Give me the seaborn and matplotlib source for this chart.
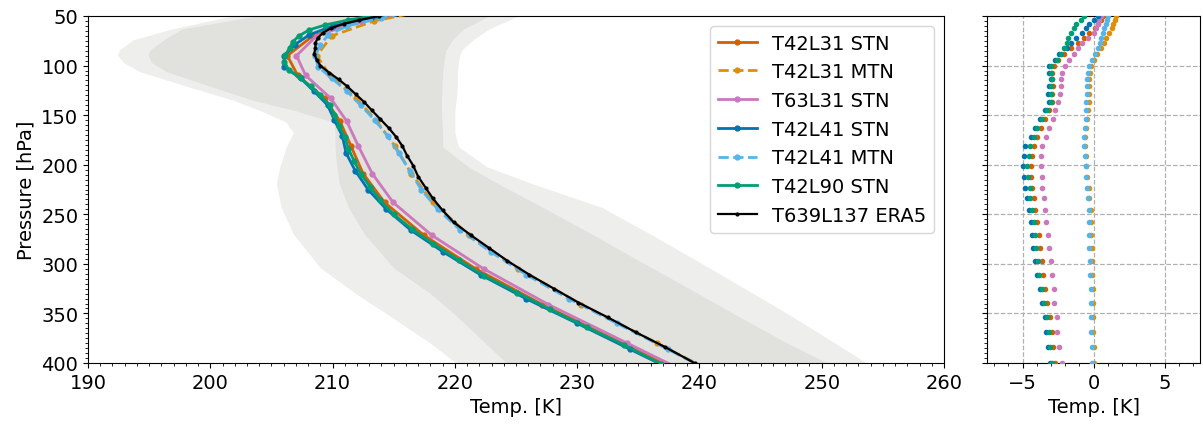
import numpy as np
import pandas as pd
import matplotlib
matplotlib.use("Agg")
import matplotlib.pyplot as plt
from matplotlib.ticker import MultipleLocator
import seaborn as sns

# ---------------- data ----------------
series_names = ["T42L31 STN", "T42L31 MTN", "T63L31 STN", "T42L41 STN",
                "T42L41 MTN", "T42L90 STN", "T639L137 ERA5"]

# ERA5 reference profile (pressure [hPa], temperature [K])
p_era5 = [45, 50, 54, 58, 62, 67, 72, 77, 82, 88, 94, 100, 107, 114, 121, 129, 137, 145,
          154, 163, 172, 181, 191, 201, 212, 223, 234, 246, 258, 271, 284, 297, 311,
          325, 339, 354, 369, 384, 400, 415]
t_era5 = [215.8, 213.8, 212.2, 210.9, 209.9, 209.2, 208.8, 208.6, 208.6, 208.5, 208.7,
          209.0, 209.7, 210.5, 211.2, 211.9, 212.6, 213.2, 213.9, 214.6, 215.2, 215.7,
          216.1, 216.6, 217.0, 217.6, 218.2, 219.0, 219.9, 221.3, 222.8, 224.3, 226.1,
          228.1, 230.1, 232.5, 234.8, 237.2, 239.6, 242.0]

# L31 models
p_l31 = [45, 55, 70, 90, 110, 133, 156, 181, 209, 238, 271, 305, 341, 380, 420]
t_t42l31_stn = [216.5, 212.35, 208.4, 206.3, 207.15, 209.35, 210.6, 211.5, 212.5, 214.25,
                217.45, 221.7, 227.15, 233.65, 240.2]
t_t42l31_mtn = [217.4, 213.4, 209.95, 208.7, 209.8, 211.95, 213.6, 215.1, 216.45, 218.2,
                221.15, 225.2, 230.35, 236.55, 242.8]
t_t63l31_stn = [216.35, 212.3, 208.7, 207.05, 207.8, 209.85, 211.15, 212.1, 213.25, 214.95,
                218.1, 222.35, 227.65, 234.1, 240.7]

# L41 models
p_l41 = [45, 52, 60, 69, 79, 90, 101, 113, 126, 140, 155, 171, 188, 206, 225, 245, 266,
         288, 311, 335, 360, 386, 413]
t_t42l41_stn = [216.3, 213.15, 210.0, 208.1, 206.9, 206.05, 206.0, 207.4, 208.5, 209.6,
                210.15, 210.8, 211.1, 211.85, 212.9, 214.4, 216.4, 219.05, 222.1, 225.8,
                230.0, 234.3, 238.8]
t_t42l41_mtn = [216.85, 214.0, 211.2, 209.65, 209.0, 208.6, 208.8, 209.95, 211.2, 212.3,
                213.45, 214.5, 215.4, 216.3, 217.25, 218.6, 220.45, 222.95, 225.85, 229.3,
                233.25, 237.4, 241.6]

# L90 model
p_l90 = [45, 49, 54, 59, 64, 70, 76, 82, 89, 96, 104, 112, 121, 130, 140, 150, 161, 172,
         184, 196, 209, 222, 236, 250, 265, 280, 296, 312, 329, 346, 364, 382, 401, 420]
t_t42l90_stn = [215.3, 213.65, 211.3, 209.4, 208.1, 207.25, 206.75, 206.5, 206.15, 206.05,
                206.4, 207.3, 208.2, 209.0, 209.75, 210.15, 210.55, 211.0, 211.3, 211.75,
                212.3, 213.05, 213.9, 215.0, 216.5, 218.25, 220.3, 222.4, 225.1, 227.8,
                230.8, 233.85, 236.85, 240.05]

# differences to ERA5 (right panel)
p_diff = [50, 54, 58, 62, 67, 72, 77, 82, 88, 94, 100, 107, 114, 121, 129, 137, 145, 154,
          163, 172, 181, 191, 201, 212, 223, 234, 246, 258, 271, 284, 297, 311, 325, 339,
          354, 369, 384, 400]
d_t42l31_stn = [0.7, 0.5, 0.3, 0.1, -0.3, -0.7, -1.1, -1.6, -2.1, -2.5, -2.8, -2.9, -2.9,
                -2.85, -2.9, -2.95, -3.1, -3.4, -3.7, -4.0, -4.2, -4.35, -4.4, -4.4, -4.3,
                -4.2, -4.1, -3.95, -3.85, -3.8, -3.65, -3.55, -3.4, -3.3, -3.05, -2.95,
                -2.85, -2.7]
d_t42l31_mtn = [1.55, 1.5, 1.4, 1.3, 1.1, 0.9, 0.75, 0.55, 0.25, 0.0, -0.2, -0.25, -0.3,
                -0.3, -0.3, -0.35, -0.4, -0.45, -0.55, -0.6, -0.6, -0.55, -0.5, -0.45,
                -0.35, -0.3, -0.2, -0.15, -0.15, -0.1, -0.1, -0.1, -0.05, -0.05, -0.05,
                -0.05, 0.0, 0.0]
d_t63l31_stn = [0.5, 0.4, 0.3, 0.2, 0.0, -0.4, -0.8, -1.1, -1.4, -1.7, -2.0, -2.2, -2.3,
                -2.3, -2.35, -2.5, -2.7, -2.85, -3.1, -3.35, -3.6, -3.7, -3.7, -3.65, -3.6,
                -3.5, -3.45, -3.35, -3.2, -3.15, -3.0, -2.95, -2.8, -2.75, -2.6, -2.55,
                -2.4, -2.25]
d_t42l41_stn = [0.3, 0.0, -0.3, -0.5, -0.8, -1.2, -1.6, -1.9, -2.4, -2.7, -3.1, -3.1, -3.0,
                -3.1, -3.2, -3.1, -3.4, -3.8, -4.1, -4.4, -4.8, -4.9, -5.0, -4.9, -4.85,
                -4.7, -4.55, -4.4, -4.3, -4.25, -4.1, -4.0, -3.75, -3.65, -3.45, -3.35,
                -3.2, -3.05]
d_t42l41_mtn = [1.0, 0.95, 0.85, 0.75, 0.65, 0.55, 0.45, 0.3, 0.1, -0.1, -0.3, -0.4, -0.45,
                -0.45, -0.45, -0.5, -0.5, -0.55, -0.6, -0.65, -0.65, -0.6, -0.55, -0.5,
                -0.45, -0.4, -0.35, -0.3, -0.3, -0.3, -0.25, -0.25, -0.2, -0.2, -0.15,
                -0.15, -0.1, -0.1]
d_t42l90_stn = [-0.7, -0.9, -1.2, -1.4, -1.6, -1.8, -1.9, -2.1, -2.3, -2.6, -3.0, -3.0,
                -2.9, -3.0, -3.0, -3.0, -3.3, -3.6, -4.0, -4.2, -4.45, -4.55, -4.65, -4.6,
                -4.5, -4.45, -4.35, -4.2, -4.1, -4.05, -3.9, -3.85, -3.6, -3.5, -3.25,
                -3.15, -3.05, -2.9]

# spread envelopes (grey shading)
p_env = [45, 50, 63, 74, 84, 89, 97, 106, 121, 135, 145, 157, 168, 182, 202, 219, 243,
         270, 304, 330, 351, 380, 401, 410]
outer_lo = [204.0, 201.8, 196.9, 193.7, 192.6, 192.4, 192.9, 194.2, 198.1, 201.9, 204.0,
            206.2, 206.8, 206.2, 205.7, 205.4, 205.8, 206.8, 209.0, 211.9, 214.5, 218.0,
            220.2, 221.2]
outer_hi = [226.0, 225.2, 222.8, 221.5, 220.6, 220.4, 220.3, 220.2, 220.2, 220.1, 220.0,
            220.0, 220.0, 220.3, 222.6, 226.3, 232.0, 236.0, 240.8, 244.4, 247.3, 251.1,
            253.8, 254.8]
inner_lo = [206.0, 203.8, 197.7, 196.2, 195.1, 194.9, 195.2, 196.4, 200.0, 203.5, 206.8,
            210.1, 210.2, 210.2, 210.35, 210.55, 211.3, 212.6, 215.0, 218.0, 220.0, 222.5,
            224.3, 225.2]
inner_hi = [224.0, 222.8, 220.7, 219.8, 219.3, 219.2, 219.1, 219.0, 218.95, 218.9, 218.9,
            218.95, 219.0, 219.0, 221.1, 223.5, 227.2, 231.2, 236.1, 239.9, 242.9, 247.2,
            250.6, 251.8]

# ---------------- styling ----------------
plt.rcParams.update({
    "font.family": ["DejaVu Sans"],
    "font.size": 14,
    "axes.linewidth": 0.8,
    "xtick.major.size": 3.5,
    "ytick.major.size": 3.5,
    "xtick.minor.size": 2,
    "ytick.minor.size": 2,
})

cb = sns.color_palette("colorblind")
colors = [cb[3], cb[1], cb[4], cb[0], cb[9], cb[2], "black"]
styles = ["-", "--", "-", "-", "--", "-", "-"]

profiles = [
    (p_l31, t_t42l31_stn), (p_l31, t_t42l31_mtn), (p_l31, t_t63l31_stn),
    (p_l41, t_t42l41_stn), (p_l41, t_t42l41_mtn), (p_l90, t_t42l90_stn),
    (p_era5, t_era5),
]
diffs = [d_t42l31_stn, d_t42l31_mtn, d_t63l31_stn, d_t42l41_stn, d_t42l41_mtn, d_t42l90_stn]

fig = plt.figure(figsize=(12.03, 4.27), dpi=100)
ax1 = fig.add_axes([88 / 1203, 63 / 427, 856 / 1203, 347 / 427])
ax2 = fig.add_axes([987 / 1203, 63 / 427, 213 / 1203, 347 / 427])

# shading
ax1.fill_betweenx(p_env, outer_lo, outer_hi, color="#eeeeed", lw=0, zorder=0)
ax1.fill_betweenx(p_env, inner_lo, inner_hi, color="#e1e1de", lw=0, zorder=0.5)

for name, (pp, tt), c, ls in zip(series_names, profiles, colors, styles):
    df = pd.DataFrame({"T": tt, "p": pp})
    is_era = name.endswith("ERA5")
    sns.lineplot(data=df, x="T", y="p", orient="y", sort=False, ax=ax1, color=c,
                 linestyle=ls, marker=".", markersize=4 if is_era else 7,
                 markeredgecolor=c, markerfacecolor=c, markeredgewidth=1.0,
                 lw=1.6 if is_era else 2.0, label=name, zorder=3)

ax1.set_xlim(190, 260)
ax1.set_ylim(400, 50)
ax1.xaxis.set_major_locator(MultipleLocator(10))
ax1.xaxis.set_minor_locator(MultipleLocator(1))
ax1.yaxis.set_major_locator(MultipleLocator(50))
ax1.yaxis.set_minor_locator(MultipleLocator(5))
ax1.set_xlabel("Temp. [K]")
ax1.set_ylabel("Pressure [hPa]")
ax1.legend(loc="upper right", fontsize=14)

for name, d, c in zip(series_names[:-1], diffs, colors[:-1]):
    df = pd.DataFrame({"dT": d, "p": p_diff})
    sns.scatterplot(data=df, x="dT", y="p", ax=ax2, color=c, s=16, linewidth=0, zorder=3)

ax2.set_xlim(-7.5, 7.5)
ax2.set_ylim(400, 50)
ax2.xaxis.set_major_locator(MultipleLocator(5))
ax2.xaxis.set_minor_locator(MultipleLocator(1))
ax2.yaxis.set_major_locator(MultipleLocator(50))
ax2.yaxis.set_minor_locator(MultipleLocator(5))
ax2.tick_params(labelleft=False)
ax2.grid(True, which="major", linestyle="--", color="#b0b0b0", lw=0.9)
ax2.set_xlabel("Temp. [K]")
ax2.set_ylabel("")

fig.savefig("out.png", dpi=100)
